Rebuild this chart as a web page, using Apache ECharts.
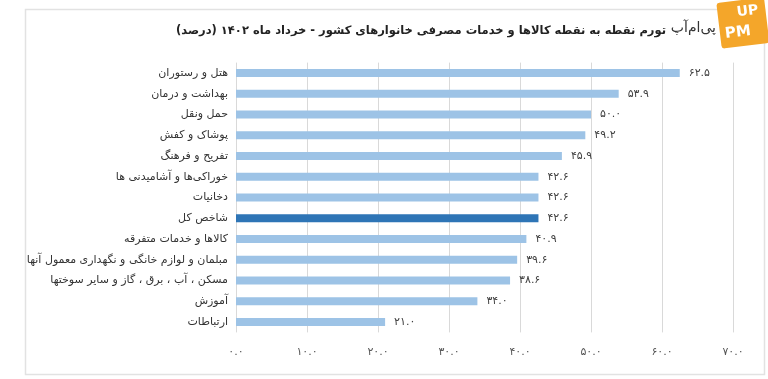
<!DOCTYPE html>
<html><head><meta charset="utf-8">
<script src="https://cdn.jsdelivr.net/npm/echarts@6/dist/echarts.min.js"></script>
<style>html,body{margin:0;padding:0;background:#fff}#c{width:768px;height:379px}</style>
</head><body><div id="c"></div>
<script>
const categories = [
  'هتل و رستوران',
  'بهداشت و درمان',
  'حمل ونقل',
  'پوشاک و کفش',
  'تفریح و فرهنگ',
  'خوراکی‌ها و آشامیدنی ها',
  'دخانیات',
  'شاخص کل',
  'کالاها و خدمات متفرقه',
  'مبلمان و لوازم خانگی و نگهداری معمول آنها',
  'مسکن ، آب ، برق ، گاز و سایر سوختها',
  'آموزش',
  'ارتباطات'
];
const values = [62.5, 53.9, 50.0, 49.2, 45.9, 42.6, 42.6, 42.6, 40.9, 39.6, 38.6, 34.0, 21.0];
const highlightCategory = 'شاخص کل';
const titleText = 'تورم نقطه به نقطه کالاها و خدمات مصرفی خانوارهای کشور - خرداد ماه ۱۴۰۲ (درصد)';

const fa = s => String(s).replace(/[0-9]/g, d => '۰۱۲۳۴۵۶۷۸۹'[d]);
const fmt = v => fa(Number(v).toFixed(1));

const chart = echarts.init(document.getElementById('c'));
chart.setOption({
  backgroundColor: '#fff',
  animation: false,
  grid: { left: 236, right: 35, top: 62.6, bottom: 46.6, containLabel: false },
  xAxis: {
    type: 'value', min: 0, max: 70, interval: 10,
    axisLine: { show: false }, axisTick: { show: false },
    splitLine: { lineStyle: { color: '#d9d9d9', width: 1 } },
    axisLabel: { formatter: fmt, color: '#555', fontSize: 11, margin: 14, fontFamily: 'DejaVu Sans' }
  },
  yAxis: {
    type: 'category', data: categories, inverse: true,
    axisLine: { show: false }, axisTick: { show: false },
    axisLabel: { color: '#333', fontSize: 11, margin: 8, fontFamily: 'DejaVu Sans' }
  },
  series: [{
    type: 'bar', barWidth: 8,
    data: values.map((v, i) => ({
      value: v,
      itemStyle: { color: categories[i] === highlightCategory ? '#2E75B6' : '#9DC3E6' }
    })),
    label: { show: true, position: 'right', distance: 9, formatter: p => fmt(p.value), color: '#404040', fontSize: 11, fontFamily: 'DejaVu Sans' }
  }],
  graphic: [
    { type: 'rect', left: 23, top: 7, shape: { width: 739, height: 365 }, style: { fill: 'none', stroke: '#e2e2e2', lineWidth: 1.5 }, z: -1 },
    { type: 'text', x: 666, y: 31, style: { text: titleText, textAlign: 'right', textVerticalAlign: 'middle', fontSize: 11.5, fontWeight: 'bold', fill: '#222', fontFamily: 'DejaVu Sans' } },
    { type: 'text', x: 716, y: 28, style: { text: 'پی‌ام‌آپ', textAlign: 'right', textVerticalAlign: 'middle', fontSize: 14, fill: '#333', fontFamily: 'DejaVu Sans' } },
    { type: 'group', x: 743, y: 24, rotation: 0.12, children: [
      { type: 'rect', shape: { x: -24, y: -24, width: 48, height: 46, r: 3 }, style: { fill: '#F4A62A' } },
      { type: 'text', x: 6, y: -12, style: { text: 'UP', textAlign: 'center', textVerticalAlign: 'middle', fontSize: 14, fontWeight: 'bold', fill: '#fff', fontFamily: 'DejaVu Sans' } },
      { type: 'text', x: -6, y: 8, style: { text: 'PM', textAlign: 'center', textVerticalAlign: 'middle', fontSize: 15, fontWeight: 'bold', fill: '#fff', fontFamily: 'DejaVu Sans' } }
    ] }
  ]
});
</script></body></html>
